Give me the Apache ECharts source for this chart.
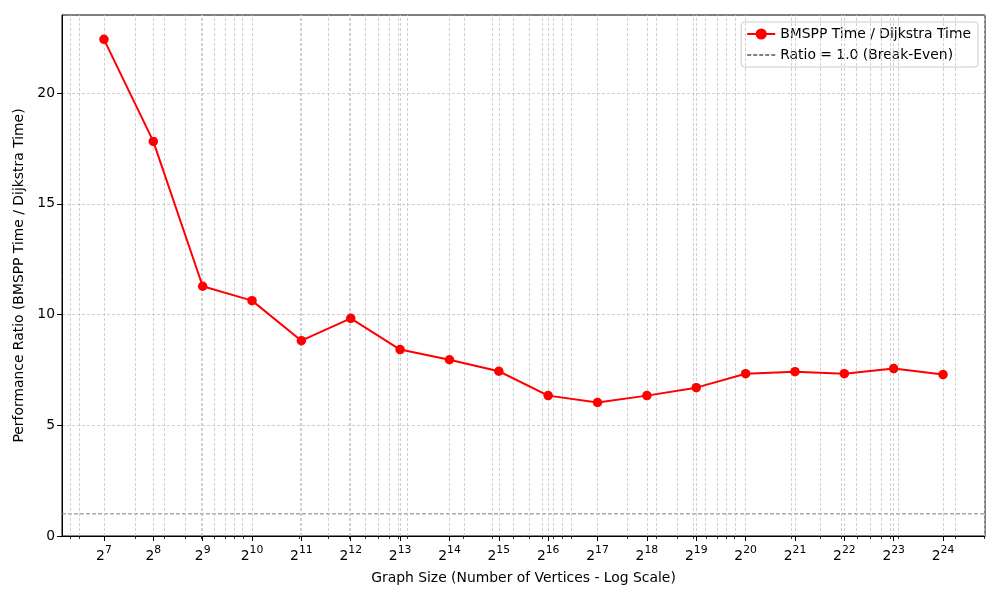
<!DOCTYPE html>
<html>
<head>
<meta charset="utf-8">
<script src="https://cdn.jsdelivr.net/npm/echarts@6/dist/echarts.min.js"></script>
<style>html,body{margin:0;padding:0;background:#fff}#c{width:1000px;height:600px}</style>
</head>
<body>
<div id="c"></div>
<script>
const vertices = [128, 256, 512, 1024, 2048, 4096, 8192, 16384, 32768, 65536, 131072, 262144, 524288, 1048576, 2097152, 4194304, 8388608, 16777216];
const ratio = [22.43, 17.82, 11.28, 10.63, 8.82, 9.83, 8.42, 7.96, 7.44, 6.34, 6.03, 6.34, 6.70, 7.33, 7.42, 7.33, 7.56, 7.29];
const xTickExponents = [7, 8, 9, 10, 11, 12, 13, 14, 15, 16, 17, 18, 19, 20, 21, 22, 23, 24];
const yTicks = [0, 5, 10, 15, 20];
const breakEven = 1.0;
const seriesName = 'BMSPP Time / Dijkstra Time';
const refName = 'Ratio = 1.0 (Break-Even)';

const X_MIN = 6.15, X_MAX = 24.85;
// base-10 minor tick positions (2..9 x 10^k) left by the log scale
const minorVals = [];
for (let k = 1; k <= 7; k++) {
  for (let m = 2; m <= 9; m++) {
    const e = Math.log2(m * Math.pow(10, k));
    if (e >= X_MIN && e <= X_MAX) minorVals.push(e);
  }
}
const points = vertices.map((v, i) => [Math.log2(v), ratio[i]]);
const gridLineStyle = {color: '#c4c4c4', width: 0.8, type: [3, 2]};
const vLines = xTickExponents.concat(minorVals).map(v => ({xAxis: v}));

const FONT = 'DejaVu Sans';
const chart = echarts.init(document.getElementById('c'));
chart.setOption({
  animation: false,
  textStyle: {fontFamily: FONT},
  grid: {left: 62, right: 15, top: 15, bottom: 64, show: true, borderColor: '#000', borderWidth: 1, containLabel: false},
  xAxis: [{
    type: 'value', min: X_MIN, max: X_MAX,
    name: 'Graph Size (Number of Vertices - Log Scale)',
    nameLocation: 'middle', nameGap: 35,
    nameTextStyle: {fontFamily: FONT, fontSize: 13.9, color: '#000'},
    axisLine: {show: true, onZero: false, lineStyle: {color: '#000', width: 1}},
    axisTick: {show: true, customValues: xTickExponents, length: 5, lineStyle: {color: '#000', width: 1}},
    axisLabel: {
      customValues: xTickExponents, margin: 9,
      formatter: v => '{b|2}{s|' + Math.round(v) + '}',
      rich: {
        b: {fontFamily: FONT, fontSize: 13.9, color: '#000', verticalAlign: 'bottom', lineHeight: 18},
        s: {fontFamily: FONT, fontSize: 10.8, color: '#000', verticalAlign: 'top', lineHeight: 18, padding: [0, 0, 7, 0]}
      }
    },
    splitLine: {show: false}
  }, {
    type: 'value', min: X_MIN, max: X_MAX, position: 'bottom',
    axisLine: {show: false},
    axisTick: {show: true, customValues: minorVals, length: 3, lineStyle: {color: '#000', width: 0.8}},
    axisLabel: {show: false},
    splitLine: {show: false}
  }],
  yAxis: {
    type: 'value', min: 0, max: 23.53, interval: 5,
    name: 'Performance Ratio (BMSPP Time / Dijkstra Time)',
    nameLocation: 'middle', nameGap: 33,
    nameTextStyle: {fontFamily: FONT, fontSize: 13.9, color: '#000'},
    axisLine: {show: true, lineStyle: {color: '#000', width: 1}},
    axisTick: {show: true, customValues: yTicks, length: 5, lineStyle: {color: '#000', width: 1}},
    axisLabel: {customValues: yTicks, fontFamily: FONT, fontSize: 13.9, color: '#000', margin: 7},
    splitLine: {show: true, lineStyle: gridLineStyle}
  },
  legend: {
    data: [seriesName, {name: refName, itemStyle: {opacity: 0}}],
    orient: 'vertical', top: 22, right: 22,
    padding: [5, 7, 5, 5], itemGap: 7, itemWidth: 28, itemHeight: 14,
    backgroundColor: 'rgba(255,255,255,0.85)', borderColor: '#cccccc', borderWidth: 1, borderRadius: 3,
    textStyle: {fontFamily: FONT, fontSize: 13.9, color: '#000'}
  },
  series: [
    {
      name: '_grid', type: 'line', data: [], silent: true,
      markLine: {silent: true, symbol: 'none', label: {show: false}, lineStyle: gridLineStyle, emphasis: {disabled: true}, data: vLines, animation: false}
    },
    {
      name: refName, type: 'line', data: [[X_MIN, breakEven], [X_MAX, breakEven]],
      showSymbol: false, symbol: 'none', silent: true,
      lineStyle: {color: '#808080', width: 1, type: [4, 2]},
      itemStyle: {color: '#808080'}
    },
    {
      name: seriesName, type: 'line', data: points, z: 5,
      symbol: 'circle', symbolSize: 9.5, showAllSymbol: true,
      lineStyle: {color: '#ff0000', width: 2},
      itemStyle: {color: '#ff0000'}
    }
  ]
});
</script>
</body>
</html>
